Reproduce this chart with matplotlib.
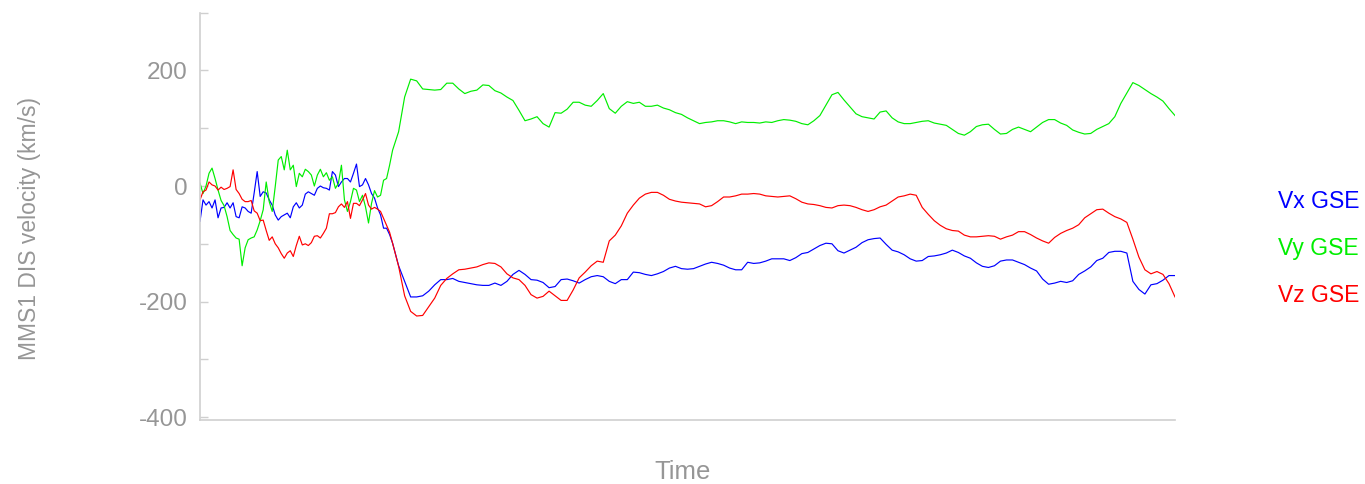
import numpy as np
import matplotlib
matplotlib.use("Agg")
import matplotlib.pyplot as plt
from matplotlib.ticker import MultipleLocator, FuncFormatter

plt.rcParams["font.family"] = ["Liberation Sans", "DejaVu Sans"]
plt.rcParams["axes.unicode_minus"] = False

# Sample times (s): denser cadence first, then a coarser cadence
t_early = np.arange(0, 193, 3)
t_late = np.arange(198, 973, 6)

# MMS1 DIS ion velocity components in GSE (km/s)
vx_early = [-61, -24, -33, -27, -38, -24, -55, -38, -37, -29, -38, -29, -53, -55, -36, -38, -44, -47,
            -12, 25, -18, -10, -12, -24, -33, -50, -59, -53, -50, -47, -55, -36, -29, -38, -33,
            -14, -10, -13, -16, -4, 0, -3, -4, -7, 25, 19, -1, 7, 13, 13, 7, 22, 38, -1, 2, 13, 2,
            -13, -21, -38, -50, -73, -73, -84, -99]
vy_early = [5, -13, 0, 22, 31, 13, -7, -25, -34, -53, -77, -84, -90, -92, -138, -107, -93, -90,
            -88, -76, -60, -41, 7, -27, -44, -1, 45, 51, 28, 62, 28, 36, -1, 22, 16,
            29, 25, 19, 0, 19, 29, 16, 23, 10, 16, -4, 5, 36, -24, -44, -27, -4, -7, -27, -16, -36, -64,
            -30, -8, -19, -16, 10, 13, 36, 62]
vz_early = [-24, -10, -7, 7, 2, 0, -7, -2, -6, -4, -1, 28, -6, -13, -23, -27, -27, -25,
            -43, -47, -60, -59, -77, -94, -88, -100, -107, -117, -125, -116, -112, -122, -103, -87, -102,
            -100, -103, -98, -87, -86, -90, -82, -73, -48, -48, -46, -36, -31, -37, -27, -56, -30, -30,
            -34, -24, -13, -33, -40, -37, -40, -44, -56, -68, -80, -99]

vx_late = [-138, -165, -192, -192, -190, -182, -171, -162, -162, -160, -165, -167, -169, -171, -172,
           -172, -168, -172, -165, -153, -146, -153, -162, -163, -167, -176, -174, -162, -161, -164,
           -168, -162, -157, -155, -157,
           -165, -169, -162, -162, -149, -150, -153, -155, -152, -148, -142, -139, -143, -144, -143,
           -139, -135, -132, -134, -137, -142, -145, -145, -132, -134, -133, -130, -126, -126, -126,
           -129, -124, -117,
           -115, -109, -103, -99, -100, -112, -116, -111, -106, -98, -93, -91, -90, -101, -111, -114,
           -119, -126, -130, -129, -122, -121, -119, -116, -111, -115, -121, -125, -133, -139, -141,
           -138, -130,
           -128, -128, -132, -136, -142, -147, -161, -170, -168, -165, -167, -164, -153, -147, -140,
           -129, -125, -115, -113, -113, -116, -165, -179, -187, -171, -169, -163, -155, -155]
vy_late = [94, 154, 185, 182, 168, 167, 166, 167, 178, 178, 168, 160, 164, 166, 175, 174, 165, 161,
           154, 148, 131, 113, 116, 120, 108, 102, 127, 126, 133, 145, 145, 140, 138, 148, 160,
           134, 126, 138, 146, 143, 145, 138, 138, 140, 135, 132, 127, 124, 118, 113, 108, 110, 111,
           113, 113, 111, 108, 111, 110, 110, 109, 111, 110, 113, 115, 114, 112, 108,
           106, 113, 122, 140, 158, 162, 149, 137, 125, 120, 118, 116, 128, 130, 118, 111, 108, 108,
           110, 112, 113, 109, 107, 105, 98, 91, 88, 94, 103, 106, 107, 98, 90,
           91, 98, 102, 98, 94, 102, 110, 115, 115, 109, 105, 97, 93, 90, 91, 98, 103, 108, 120, 143,
           161, 179, 174, 167, 160, 154, 147, 134, 122]
vz_late = [-139, -190, -217, -225, -224, -209, -194, -172, -160, -152, -145, -144, -142, -140, -136,
           -133, -134, -140, -152, -159, -162, -172, -188, -194, -191, -182, -190, -198, -198, -180,
           -159, -149, -138, -130, -132,
           -95, -85, -69, -47, -33, -21, -14, -11, -11, -16, -23, -26, -28, -29, -30, -31, -36, -34,
           -27, -19, -19, -17, -14, -14, -13, -14, -17, -18, -19, -18, -17, -22, -28,
           -31, -32, -34, -37, -38, -34, -33, -34, -37, -41, -44, -41, -36, -33, -26, -19, -17, -14,
           -16, -37, -49, -60, -68, -74, -77, -78, -85, -88, -88, -87, -86, -87, -92,
           -88, -85, -79, -79, -84, -90, -95, -99, -89, -82, -77, -73, -67, -55, -48, -41, -40, -47,
           -53, -57, -63, -92, -123, -145, -152, -148, -153, -169, -192]

labels = ["Vx GSE", "Vy GSE", "Vz GSE"]
colors = ["#0000ff", "#00ee00", "#ff0000"]

t = np.concatenate([t_early, t_late])
series = [np.concatenate([vx_early, vx_late]),
          np.concatenate([vy_early, vy_late]),
          np.concatenate([vz_early, vz_late])]

W, H = 1365, 484
fig = plt.figure(figsize=(W / 100, H / 100), dpi=100)
ax = fig.add_axes([200 / W, 1 - 420 / H, 975 / W, 407.3 / H])

for v, c in zip(series, colors):
    ax.plot(t, v, color=c, lw=0.85, solid_joinstyle="round")

ax.set_xlim(t[0], t[-1])
ax.set_ylim(-405, 300)

grey = "#969696"
axis_grey = "#cfcfcf"
for side in ("top", "right"):
    ax.spines[side].set_visible(False)
for side in ("left", "bottom"):
    ax.spines[side].set_color(axis_grey)
    ax.spines[side].set_linewidth(1.2)

ax.xaxis.set_visible(False)
ax.yaxis.set_major_locator(MultipleLocator(100))
ax.yaxis.set_major_formatter(FuncFormatter(lambda v, p: f"{int(v)}" if int(v) % 200 == 0 else ""))
ax.tick_params(axis="y", direction="in", length=6, width=1, color=axis_grey,
               labelcolor=grey, labelsize=17.5, pad=9)

fig.text(30 / W, 1 - 228 / H, "MMS1 DIS velocity (km/s)", rotation=90,
         ha="center", va="center", color=grey, fontsize=16.5)
fig.text(683 / W, 1 - 472 / H, "Time", ha="center", va="center", color=grey, fontsize=18.5)

for lab, c, yp in zip(labels, colors, [202, 248, 296]):
    fig.text(1278 / W, 1 - yp / H, lab, ha="left", va="center", color=c, fontsize=16.5)

fig.savefig("out.png", dpi=100)
